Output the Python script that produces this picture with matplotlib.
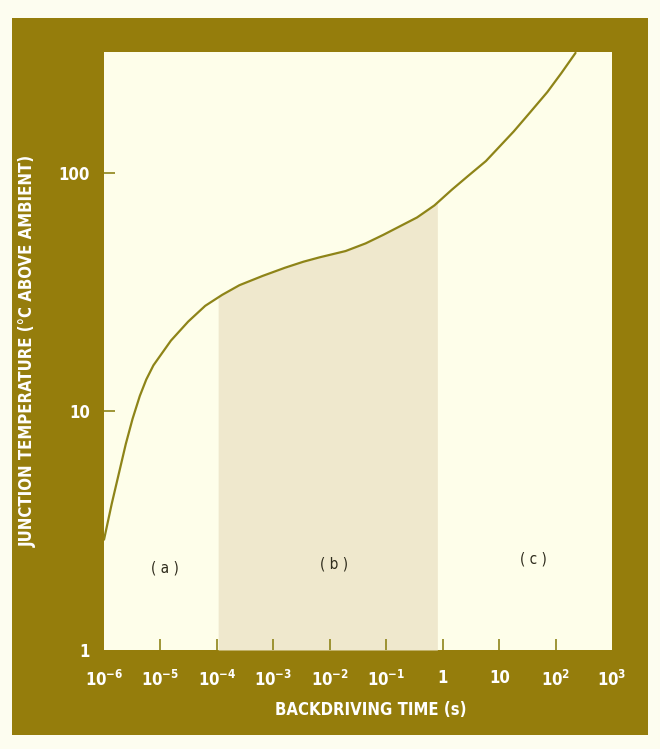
import numpy as np
import matplotlib.pyplot as plt
from matplotlib.patches import Rectangle

plt.rcParams['font.family'] = ['DejaVu Sans']
plt.rcParams['font.stretch'] = 'condensed'
plt.rcParams['mathtext.default'] = 'regular'

# colours
olive = '#957D0C'
cream = '#FEFEEA'
shade = '#EFE8CD'
line_col = '#8E8418'

# data
time_s = [1.0e-6, 1.37e-6, 2.0e-6, 2.43e-6, 3.2e-6, 4.3e-6, 5.6e-6, 7.5e-6, 1.53e-5,
          3.1e-5, 6.2e-5, 1.24e-4, 2.5e-4, 6.5e-4, 1.6e-3, 3.4e-3, 6.5e-3, 1.9e-2,
          4.3e-2, 8.9e-2, 0.35, 0.71, 1.45, 2.8, 5.8, 18, 35, 71, 126, 224]
temp_c = [2.9, 4.1, 6.0, 7.3, 9.3, 11.6, 13.6, 15.6, 19.8,
          23.8, 27.7, 30.8, 33.8, 37, 40.0, 42.4, 44.2, 47,
          50.6, 55, 65, 73, 85, 97, 112, 149, 179, 218, 262, 318]

shade_from = 1.05e-4
shade_to = 0.8

x_ticks = [1e-6, 1e-5, 1e-4, 1e-3, 1e-2, 1e-1, 1, 10, 1e2, 1e3]
x_tick_labels = ['$10^{-6}$', '$10^{-5}$', '$10^{-4}$', '$10^{-3}$', '$10^{-2}$',
                 '$10^{-1}$', '1', '10', '$10^{2}$', '$10^{3}$']
y_ticks = [1, 10, 100]
y_tick_labels = ['1', '10', '100']

region_labels = ['( a )', '( b )', '( c )']
region_x = [1.2e-5, 1.2e-2, 40]
region_y = [2.2, 2.3, 2.4]

fig = plt.figure(figsize=(6.6, 7.49), dpi=100, facecolor='#FDFDF0')
# olive frame, behind the axes
fig.patches.append(Rectangle((0.018, 0.019), 0.964, 0.957, transform=fig.transFigure,
                             facecolor=olive, edgecolor='none', zorder=-10))

ax = fig.add_axes([0.1576, 0.1322, 0.770, 0.798])
ax.set_facecolor(cream)
ax.set_xscale('log')
ax.set_yscale('log')
ax.set_xlim(1e-6, 1e3)
ax.set_ylim(1, 320)

# shaded region (b) under the curve
lx = np.log10(time_s)
mask = (np.array(time_s) > shade_from) & (np.array(time_s) < shade_to)
fx = np.concatenate([[shade_from], np.array(time_s)[mask], [shade_to]])
fy = np.concatenate([[np.interp(np.log10(shade_from), lx, temp_c)],
                     np.array(temp_c)[mask],
                     [np.interp(np.log10(shade_to), lx, temp_c)]])
ax.fill_between(fx, 1, fy, color=shade, lw=0, zorder=1)

ax.plot(time_s, temp_c, color=line_col, lw=1.6, solid_joinstyle='round',
        solid_capstyle='round', zorder=3)

for lab, xx, yy in zip(region_labels, region_x, region_y):
    ax.text(xx, yy, lab, fontsize=11, color='#2e2b1c', ha='center', va='center')

for s in ax.spines.values():
    s.set_visible(False)

ax.set_xticks(x_ticks)
ax.set_xticklabels(x_tick_labels)
ax.set_yticks(y_ticks)
ax.set_yticklabels(y_tick_labels)
ax.minorticks_off()
ax.tick_params(axis='x', direction='in', length=8, width=1.2, color=line_col,
               labelcolor='white', labelsize=12, pad=14)
ax.tick_params(axis='y', direction='in', length=8, width=1.2, color=line_col,
               labelcolor='white', labelsize=12, pad=10)
for t in [ax.xaxis.get_major_ticks()[0], ax.xaxis.get_major_ticks()[-1],
          ax.yaxis.get_major_ticks()[0]]:
    t.tick1line.set_visible(False)
for lbl in ax.get_xticklabels() + ax.get_yticklabels():
    lbl.set_fontweight('bold')

ax.set_xlabel('BACKDRIVING TIME (s)', color='white', fontsize=12,
              fontweight='bold', labelpad=8, x=0.525)
ax.set_ylabel('JUNCTION TEMPERATURE (°C ABOVE AMBIENT)', color='white',
              fontsize=12, fontweight='bold', labelpad=16)

fig.savefig('out.png', dpi=100, facecolor=fig.get_facecolor())
